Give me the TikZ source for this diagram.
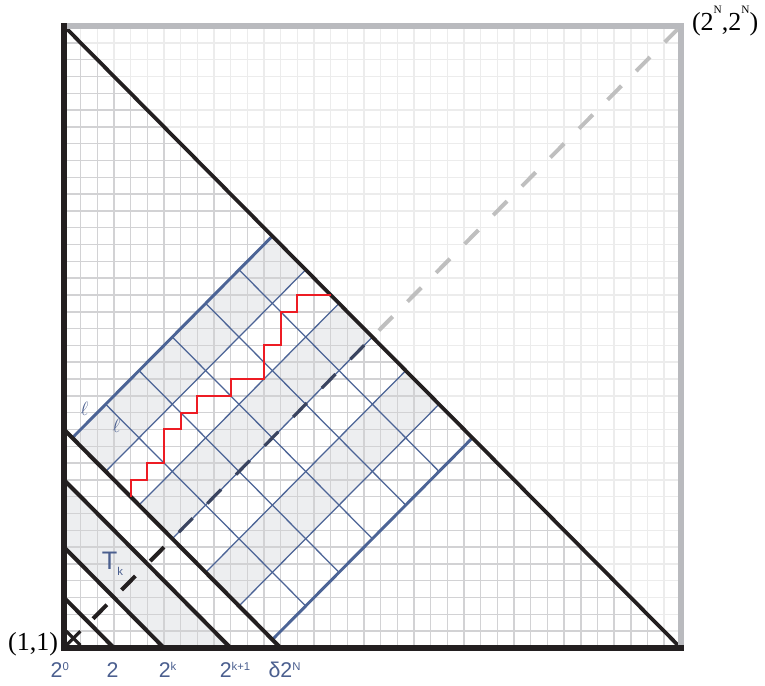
\documentclass[tikz,border=0pt]{standalone}
\usepackage{fontspec}
\setmainfont{Liberation Serif}
\newfontfamily\lsans{Liberation Sans}
\definecolor{gridD}{HTML}{D2D2D4}
\definecolor{gridL}{HTML}{ECECEC}
\definecolor{cellgray}{HTML}{EDEEF0}
\definecolor{bl}{HTML}{4C6496}
\definecolor{bltext}{HTML}{4B5F8F}
\definecolor{blk}{HTML}{231F20}
\definecolor{dashin}{HTML}{3A4460}
\definecolor{frameg}{HTML}{B9BABE}
\definecolor{dashg}{HTML}{BFBFBF}
\definecolor{redp}{HTML}{ED1C24}
\begin{document}
\begin{tikzpicture}[x=12.5025pt,y=12.6075pt,
  gridlineL/.style={gridL,line width=1.1pt},
  gridlineD/.style={gridD,line width=1.1pt},
  blthin/.style={bl,line width=0.95pt},
  blthick/.style={bl,line width=2.2pt},
  antidiag/.style={blk,line width=3pt},
  diagdash/.style={line width=3pt,dash pattern=on 14.74pt off 15.71pt},
  redpath/.style={redp,line width=1.5pt,line join=miter},
  botlab/.style={bltext,anchor=base,inner sep=0pt,font=\lsans\fontsize{16}{16}\selectfont},
  ellab/.style={bltext,inner sep=0pt,font=\fontsize{14}{14}\selectfont},
  serlab/.style={inner sep=0pt,font=\fontsize{19.5}{19.5}\selectfont}]
\useasboundingbox (-3.839,-2.261) rectangle (42.052,38.548);
% named corners
\coordinate (O) at (0,0);
\coordinate (TL) at (0,37);
\coordinate (TR) at (37,37);
\coordinate (BR) at (37,0);
\coordinate (A) at (0.5,12.5);
\coordinate (B) at (12.5,24.5);
\coordinate (C) at (24.5,12.5);
\coordinate (D) at (12.5,0.5);
\coordinate (L3) at (0,3);   \coordinate (X3) at (3,0);
\coordinate (L6) at (0,6);   \coordinate (X6) at (6,0);
\coordinate (L10) at (0,10); \coordinate (X10) at (10,0);
\coordinate (L13) at (0,13); \coordinate (X13) at (13,0);
\coordinate (d0) at (1.74,1.74);
% T_k strip
\fill[cellgray] (L6) -- (X6) -- (X10) -- (L10) -- cycle;
% shaded strips of the tilted grid
\foreach \v in {-12,-4,4}{
  \fill[cellgray] ({(13+\v)/2},{(13-\v)/2}) -- ({(37+\v)/2},{(37-\v)/2})
    -- ({(41+\v)/2},{(33-\v)/2}) -- ({(17+\v)/2},{(9-\v)/2}) -- cycle;
}
% background grid
\foreach \i in {1,...,36}{
  \draw[gridlineL] (\i,0) -- (\i,37);
  \draw[gridlineL] (0,\i) -- (37,\i);
}
\begin{scope}
  \clip (O) -- (TL) -- (BR) -- cycle;
  \foreach \i in {1,...,36}{
    \draw[gridlineD] (\i,0) -- (\i,37);
    \draw[gridlineD] (0,\i) -- (37,\i);
  }
\end{scope}
% tilted blue grid
\foreach \u in {17,21,25,29,33}{
  \draw[blthin] ({(\u-12)/2},{(\u+12)/2}) -- ({(\u+12)/2},{(\u-12)/2});
}
\foreach \v in {-8,-4,0,4,8}{
  \draw[blthin] ({(13+\v)/2},{(13-\v)/2}) -- ({(37+\v)/2},{(37-\v)/2});
}
\draw[blthick] (A) -- (B);
\draw[blthick] (D) -- (C);
% main diagonal, dashed
\begin{scope}
  \clip (BR) -- (TL) -- (TR) -- cycle;
  \draw[diagdash,dashg] (d0) -- (TR);
\end{scope}
\begin{scope}
  \clip (O) -- (L13) -- (X13) -- cycle;
  \draw[diagdash,blk] (d0) -- (TR);
\end{scope}
\begin{scope}
  \clip (L13) -- (TL) -- (BR) -- (X13) -- cycle;
  \draw[diagdash,dashin,line width=2.4pt] (d0) -- (TR);
\end{scope}
% anti-diagonals
\draw[antidiag] (L3) -- (X3);
\draw[antidiag] (L6) -- (X6);
\draw[antidiag] (L10) -- (X10);
\draw[antidiag] (L13) -- (X13);
\draw[blk,line width=2.8pt] (TL) -- (BR);
% red path
\draw[redpath] (4,9) -- (4,10) -- (5,10) -- (5,11) -- (6,11) -- (6,13) -- (7,13)
  -- (7,14) -- (8,14) -- (8,15) -- (10,15) -- (10,16) -- (12,16) -- (12,18)
  -- (13,18) -- (13,20) -- (14,20) -- (14,21) -- (16,21);
% frame
\draw[frameg,line width=4.5pt,line cap=rect] (TL) -- (TR) -- (BR);
\draw[blk,line width=4.5pt,line cap=rect] (TL) -- (O) -- (BR);
% cross at (1,1)
\coordinate (xa) at (0.14,0.16); \coordinate (xb) at (0.98,1.0);
\coordinate (xc) at (0.14,1.0);  \coordinate (xd) at (0.98,0.16);
\draw[blk,line width=2.4pt] (xa) -- (xb);
\draw[blk,line width=2.4pt] (xc) -- (xd);
% labels
\node[serlab,anchor=base east] (p11) at (-0.34,-0.12) {(1,1)};
\node[serlab,anchor=base west] (pNN) at (37.66,36.76)
  {(2\raisebox{0.62em}{\fontsize{8.5}{8.5}\selectfont N},2\raisebox{0.62em}{\fontsize{8.5}{8.5}\selectfont N})};
\node[botlab] (b0) at (-0.25,-1.785) {2\raisebox{5.5pt}{\fontsize{8.5}{8.5}\selectfont 0}};
\node[botlab] (b1) at (2.91,-1.785) {2};
\node[botlab] (bk) at (6.21,-1.785) {2\raisebox{5.5pt}{\fontsize{8.5}{8.5}\selectfont k}};
\node[botlab] (bk1) at (10.26,-1.785) {2\raisebox{5.5pt}{\fontsize{8.5}{8.5}\selectfont k+1}};
\node[botlab] (bN) at (13.23,-1.785) {δ2\raisebox{5.5pt}{\fontsize{8.5}{8.5}\selectfont N}};
\node[bltext,anchor=base west,inner sep=0pt,font=\lsans\fontsize{19}{19}\selectfont] (Tk) at (2.26,4.64)
  {T\raisebox{-4pt}{\fontsize{8.5}{8.5}\selectfont k}};
\node[ellab] (ell1) at (1.23,14.22) {$\ell$};
\node[ellab] (ell2) at (3.16,13.22) {$\ell$};
\end{tikzpicture}
\end{document}
